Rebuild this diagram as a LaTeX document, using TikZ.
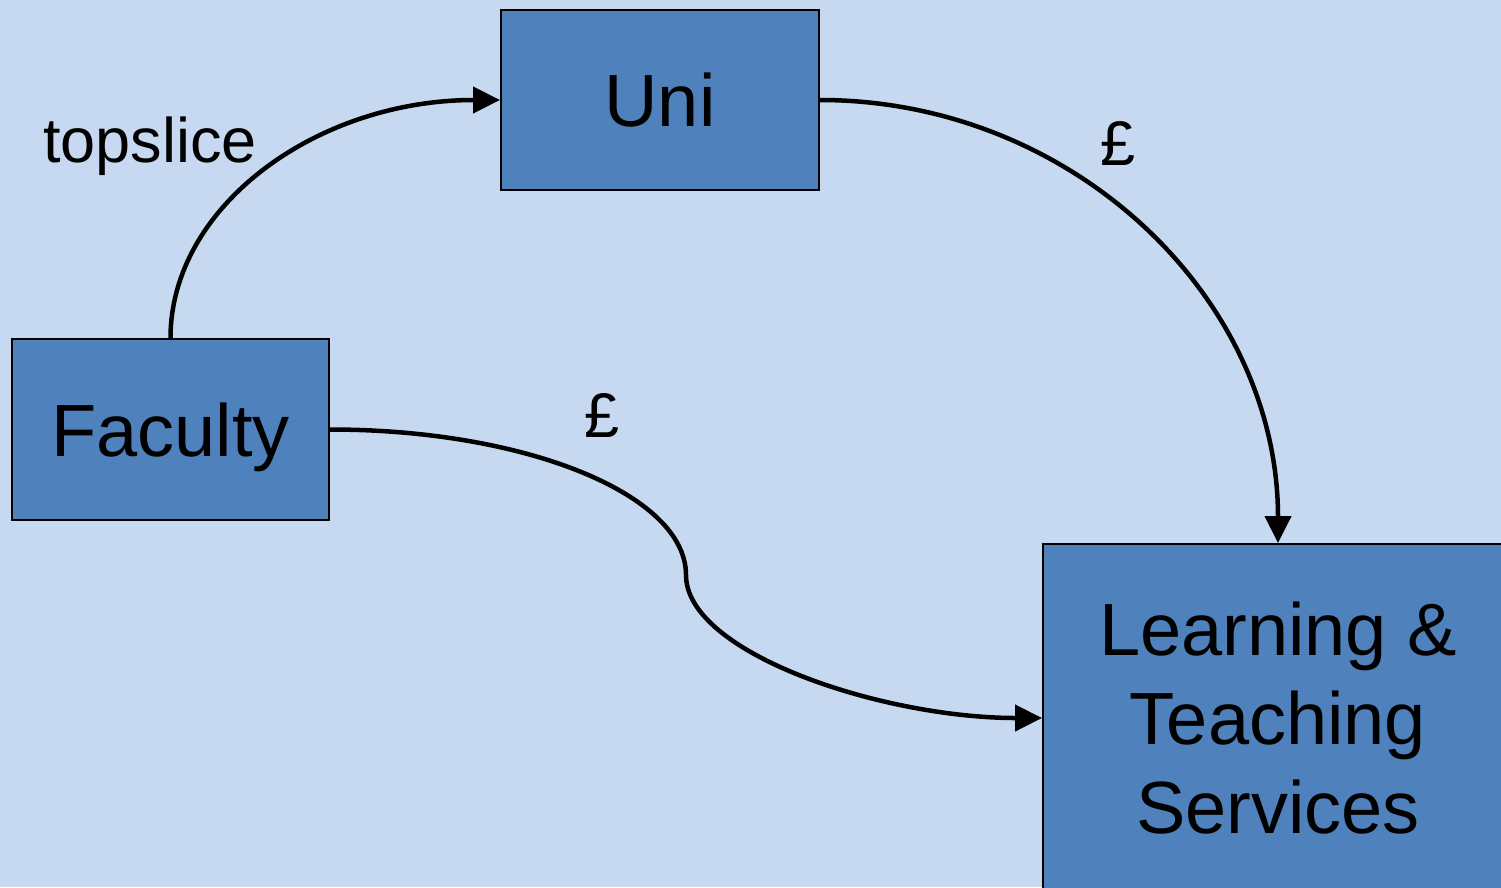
\documentclass[tikz,border=0pt]{standalone}
\usepackage{fontspec}
\setmainfont{Liberation Sans}
\usetikzlibrary{arrows.meta}
\definecolor{bgblue}{HTML}{C6D9F0}
\definecolor{boxblue}{HTML}{4F81BD}
\tikzset{
  unitbox/.style={draw=black, line width=2pt, fill=boxblue, rectangle, inner sep=0pt,
    font=\fontsize{74}{89}\selectfont},
  flow/.style={line width=4.5pt, -{Triangle[length=27pt, width=26pt]}},
  lbl/.style={font=\fontsize{63}{75}\selectfont, anchor=base, inner sep=0pt}
}
\begin{document}
\begin{tikzpicture}[x=1pt, y=-1pt]
  \useasboundingbox (0,0) rectangle (1501,887);
  \fill[bgblue] (0,0) rectangle (1501,887);

  % boxes
  \node[unitbox, minimum width=318pt, minimum height=180pt] (uni) at (660,100) {Uni};
  \node[unitbox, minimum width=317pt, minimum height=181pt, text depth=0pt] (fac) at (170.5,429.5) {Faculty};
  \node[unitbox, minimum width=470pt, minimum height=348pt, align=center] (lts) at (1278,718)
    {Learning \&\\Teaching\\Services};

  % money flows
  \draw[flow] (fac.north) .. controls +(0,-132) and +(-183,0) .. (uni.west);
  \draw[flow] (uni.east) .. controls +(253,0) and +(0,-245) .. (lts.north);
  \coordinate (bend) at (686,575);
  \draw[flow] (fac.east) .. controls +(197,0) and +(0,-80) .. (bend)
                         .. controls +(0,78) and +(-160,0) .. (lts.west);

  % labels
  \node[lbl] (top) at (150,162) {topslice};
  \node[lbl] (p1) at (602,437) {£};
  \node[lbl] (p2) at (1118,165) {£};
\end{tikzpicture}
\end{document}
